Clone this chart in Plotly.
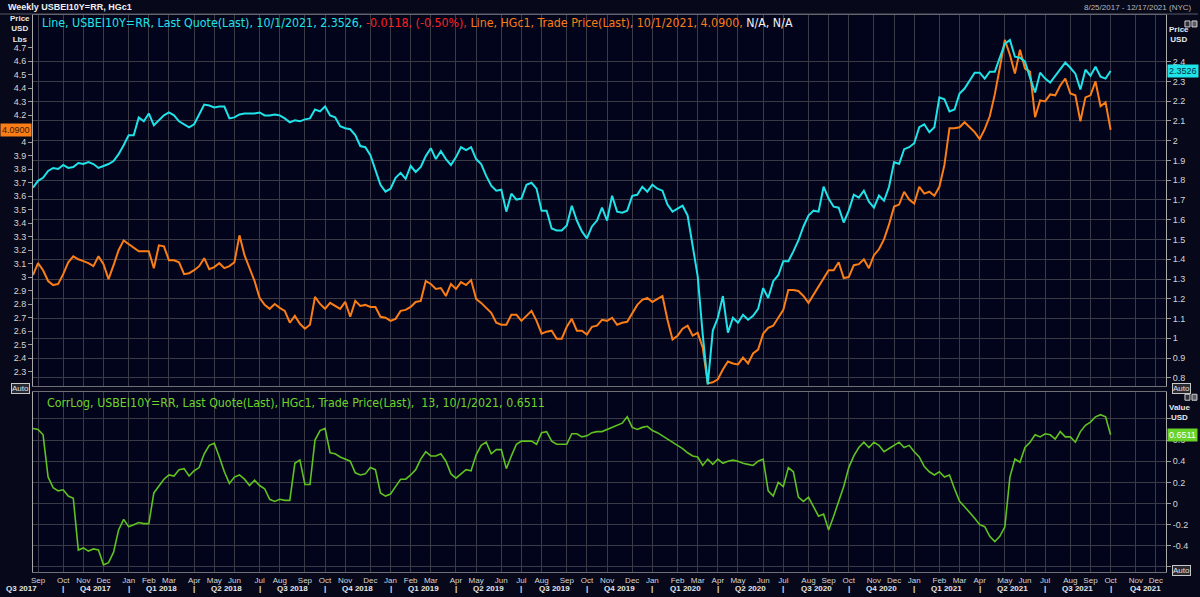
import pandas as pd
import plotly.graph_objects as go

START_DATE = "2017-08-25"
RANGE_END = "2021-12-17"

# USBEI10Y=RR weekly last quote (right axis, %)
usbei10y = [
    1.762, 1.797, 1.812, 1.847, 1.862, 1.857, 1.877, 1.862, 1.867, 1.887,
    1.882, 1.892, 1.882, 1.862, 1.872, 1.882, 1.897, 1.932, 1.977, 2.028,
    2.028, 2.118, 2.098, 2.138, 2.078, 2.103, 2.128, 2.143, 2.128, 2.098,
    2.083, 2.068, 2.083, 2.133, 2.183, 2.178, 2.168, 2.173, 2.173, 2.113,
    2.118, 2.133, 2.138, 2.138, 2.138, 2.143, 2.128, 2.128, 2.133, 2.128,
    2.113, 2.093, 2.103, 2.098, 2.108, 2.113, 2.158, 2.148, 2.173, 2.128,
    2.118, 2.073, 2.063, 2.058, 2.028, 1.973, 1.967, 1.927, 1.857, 1.777,
    1.742, 1.757, 1.812, 1.837, 1.807, 1.872, 1.842, 1.867, 1.922, 1.962,
    1.907, 1.947, 1.907, 1.877, 1.917, 1.967, 1.952, 1.967, 1.907, 1.882,
    1.822, 1.772, 1.747, 1.752, 1.641, 1.732, 1.702, 1.707, 1.777, 1.787,
    1.757, 1.646, 1.646, 1.556, 1.546, 1.546, 1.571, 1.671, 1.596, 1.541,
    1.506, 1.566, 1.596, 1.661, 1.596, 1.721, 1.641, 1.636, 1.646, 1.721,
    1.726, 1.767, 1.742, 1.777, 1.757, 1.747, 1.677, 1.641, 1.656, 1.671,
    1.621, 1.456, 1.315, 1.019, 0.767, 1.039, 1.104, 1.214, 1.029, 1.104,
    1.079, 1.119, 1.094, 1.114, 1.149, 1.254, 1.204, 1.289, 1.319, 1.390,
    1.390, 1.440, 1.495, 1.566, 1.621, 1.646, 1.641, 1.767, 1.707, 1.666,
    1.661, 1.586, 1.646, 1.727, 1.712, 1.747, 1.691, 1.661, 1.722, 1.696,
    1.767, 1.892, 1.882, 1.957, 1.967, 1.987, 2.068, 2.083, 2.043, 2.068,
    2.219, 2.209, 2.148, 2.158, 2.239, 2.264, 2.304, 2.344, 2.344, 2.314,
    2.349, 2.349, 2.420, 2.490, 2.510, 2.425, 2.420, 2.400, 2.319, 2.244,
    2.344, 2.314, 2.294, 2.329, 2.359, 2.395, 2.369, 2.339, 2.259, 2.359,
    2.329, 2.374, 2.324, 2.314, 2.3526,
]

# HGc1 weekly trade price (left axis, USD/lb)
hgc1 = [
    3.015, 3.103, 3.051, 2.971, 2.941, 2.949, 3.022, 3.110, 3.154, 3.132,
    3.118, 3.103, 3.081, 3.154, 3.096, 2.985, 3.088, 3.199, 3.272, 3.243,
    3.213, 3.191, 3.191, 3.191, 3.066, 3.235, 3.228, 3.125, 3.125, 3.110,
    3.022, 3.029, 3.051, 3.081, 3.140, 3.059, 3.074, 3.103, 3.066, 3.081,
    3.110, 3.309, 3.162, 3.066, 2.971, 2.846, 2.794, 2.765, 2.801, 2.772,
    2.750, 2.662, 2.713, 2.654, 2.618, 2.647, 2.853, 2.801, 2.765, 2.809,
    2.787, 2.765, 2.816, 2.706, 2.824, 2.787, 2.794, 2.779, 2.779, 2.706,
    2.699, 2.676, 2.691, 2.750, 2.757, 2.779, 2.816, 2.824, 2.971, 2.949,
    2.912, 2.919, 2.860, 2.949, 2.912, 2.963, 2.941, 2.978, 2.838, 2.809,
    2.772, 2.735, 2.662, 2.647, 2.647, 2.721, 2.721, 2.676, 2.713, 2.750,
    2.676, 2.581, 2.596, 2.603, 2.544, 2.544, 2.632, 2.691, 2.603, 2.603,
    2.574, 2.632, 2.640, 2.684, 2.676, 2.699, 2.647, 2.662, 2.669, 2.728,
    2.794, 2.831, 2.846, 2.816, 2.838, 2.860, 2.684, 2.537, 2.566, 2.618,
    2.640, 2.566, 2.588, 2.478, 2.213, 2.221, 2.243, 2.316, 2.375, 2.360,
    2.353, 2.404, 2.360, 2.434, 2.463, 2.581, 2.625, 2.640, 2.699, 2.757,
    2.904, 2.904, 2.897, 2.860, 2.809, 2.868, 2.926, 2.985, 3.051, 3.051,
    3.110, 2.993, 3.000, 3.088, 3.096, 3.132, 3.066, 3.162, 3.206, 3.279,
    3.390, 3.522, 3.537, 3.632, 3.574, 3.544, 3.669, 3.618, 3.632, 3.603,
    3.669, 3.831, 4.103, 4.103, 4.110, 4.147, 4.110, 4.074, 4.022, 4.096,
    4.191, 4.353, 4.551, 4.757, 4.647, 4.507, 4.684, 4.544, 4.522, 4.184,
    4.309, 4.301, 4.353, 4.346, 4.419, 4.471, 4.360, 4.346, 4.154, 4.331,
    4.346, 4.449, 4.265, 4.294, 4.090,
]

# CorrLog(USBEI10Y, HGc1, 13)
corrlog = [
    0.71, 0.70, 0.65, 0.25, 0.15, 0.12, 0.13, 0.07, 0.05, -0.44,
    -0.42, -0.45, -0.43, -0.44, -0.58, -0.56, -0.46, -0.25, -0.15, -0.22,
    -0.20, -0.18, -0.19, -0.19, 0.10, 0.17, 0.23, 0.27, 0.26, 0.32,
    0.33, 0.26, 0.31, 0.34, 0.47, 0.55, 0.57, 0.44, 0.30, 0.19,
    0.25, 0.27, 0.23, 0.17, 0.22, 0.17, 0.14, 0.04, 0.02, 0.04,
    0.03, 0.03, 0.38, 0.41, 0.18, 0.18, 0.60, 0.69, 0.71, 0.48,
    0.47, 0.44, 0.42, 0.40, 0.29, 0.27, 0.28, 0.34, 0.32, 0.10,
    0.07, 0.09, 0.16, 0.23, 0.23, 0.27, 0.32, 0.42, 0.49, 0.45,
    0.45, 0.47, 0.40, 0.28, 0.24, 0.28, 0.32, 0.31, 0.46, 0.55,
    0.58, 0.47, 0.51, 0.51, 0.33, 0.45, 0.56, 0.59, 0.59, 0.59,
    0.56, 0.67, 0.68, 0.59, 0.56, 0.56, 0.56, 0.66, 0.66, 0.63,
    0.64, 0.67, 0.68, 0.68, 0.70, 0.72, 0.74, 0.76, 0.82, 0.72,
    0.70, 0.72, 0.73, 0.69, 0.67, 0.64, 0.61, 0.58, 0.55, 0.52,
    0.48, 0.45, 0.44, 0.36, 0.42, 0.37, 0.42, 0.38, 0.40, 0.41,
    0.40, 0.38, 0.37, 0.36, 0.40, 0.42, 0.12, 0.07, 0.20, 0.16,
    0.34, 0.30, 0.06, 0.02, 0.06, -0.03, -0.12, -0.10, -0.25, -0.12,
    0.02, 0.16, 0.34, 0.45, 0.53, 0.58, 0.53, 0.58, 0.55, 0.49,
    0.52, 0.55, 0.58, 0.53, 0.55, 0.49, 0.44, 0.35, 0.30, 0.27,
    0.30, 0.25, 0.27, 0.14, 0.02, -0.03, -0.08, -0.14, -0.20, -0.22,
    -0.31, -0.36, -0.31, -0.22, 0.25, 0.42, 0.39, 0.53, 0.58, 0.65,
    0.63, 0.66, 0.65, 0.61, 0.68, 0.63, 0.63, 0.58, 0.68, 0.74,
    0.77, 0.82, 0.84, 0.82, 0.6511,
]

# left axis labels (4.1 sits under the last-value tag in the reference)
left_ticks = [2.3, 2.4, 2.5, 2.6, 2.7, 2.8, 2.9, 3.0, 3.1, 3.2, 3.3, 3.4, 3.5,
              3.6, 3.7, 3.8, 3.9, 4.0, 4.2, 4.3, 4.4, 4.5, 4.6, 4.7]
right_ticks = [0.8, 0.9, 1.0, 1.1, 1.2, 1.3, 1.4, 1.5, 1.6, 1.7, 1.8, 1.9,
               2.0, 2.1, 2.2, 2.3, 2.4]
corr_ticks = [-0.6, -0.4, -0.2, 0.0, 0.2, 0.4, 0.6, 0.8]
corr_ticktext = ["", "-0.4", "-0.2", "0", "0.2", "0.4", "0.6", ""]

dates = pd.date_range(START_DATE, periods=len(usbei10y), freq="7D")

# ---------- styling ----------
BG = "#02041c"
PAPER = "#070819"
GRID = "#3a3b45"
AXLINE = "#a9a9a9"
TICKC = "#d6d6d6"
CYAN = "#1fe3e8"
ORANGE = "#fb7d16"
GREEN = "#5fc21f"
FONT = "Liberation Sans"
NARROW = "Liberation Sans Narrow, DejaVu Sans Condensed, Liberation Sans"

W, H = 1200, 597
ML, MR, MT, MB = 33, 32, 15, 21
PW, PH = W - ML - MR, H - MT - MB


def px(x):
    return (x - ML) / PW


def py(y):
    return (H - MB - y) / PH


TOP_DOM = [py(389), 1.0]
LOW_DOM = [0.0, py(395)]

# month ticks at first weekly bar (Friday) of each month
fr = pd.date_range("2017-07-01", "2022-01-31", freq="W-FRI")
first_fri = pd.Series(fr).groupby([fr.year, fr.month]).first()
rs, re_ = pd.Timestamp(START_DATE), pd.Timestamp(RANGE_END)
month_ticks = [d for d in first_fri if rs < d <= re_]
month_text = [d.strftime("%b") for d in month_ticks]
q_starts = [d for d in first_fri if d.month in (1, 4, 7, 10)]

fig = go.Figure()
fig.add_trace(go.Scatter(x=dates, y=hgc1, mode="lines", xaxis="x2", yaxis="y",
                         line=dict(color=ORANGE, width=2), name="HGc1"))
fig.add_trace(go.Scatter(x=dates, y=usbei10y, mode="lines", xaxis="x2", yaxis="y3",
                         line=dict(color=CYAN, width=2), name="USBEI10Y=RR"))
fig.add_trace(go.Scatter(x=dates, y=corrlog, mode="lines", xaxis="x", yaxis="y2",
                         line=dict(color=GREEN, width=1.6), name="CorrLog"))

tickfont = dict(family=FONT, size=9, color=TICKC)

fig.update_layout(
    width=W, height=H,
    margin=dict(l=ML, r=MR, t=MT, b=MB, pad=0),
    paper_bgcolor=PAPER, plot_bgcolor=BG,
    showlegend=False,
    xaxis=dict(domain=[0, 1], anchor="y2", type="date", range=[START_DATE, RANGE_END],
               tickmode="array", tickvals=month_ticks, ticktext=month_text,
               tickfont=dict(family=FONT, size=8, color=TICKC), ticks="", ticklen=0,
               showgrid=True, gridcolor=GRID, gridwidth=1, zeroline=False,
               showline=True, linecolor="#6f6f78", mirror=True),
    xaxis2=dict(domain=[0, 1], anchor="y", matches="x", type="date",
                tickmode="array", tickvals=month_ticks, showticklabels=False,
                showgrid=True, gridcolor=GRID, gridwidth=1, zeroline=False,
                showline=True, linecolor="#6f6f78", mirror=True),
    yaxis=dict(domain=TOP_DOM, anchor="x2", side="left", range=[2.191, 4.941],
               tickmode="array", tickvals=left_ticks, tickfont=tickfont,
               ticks="outside", ticklen=4, tickcolor="#9a9a9a",
               showgrid=False, zeroline=False, showline=True, linecolor=AXLINE),
    yaxis3=dict(overlaying="y", anchor="x2", side="right", range=[0.757, 2.636],
                tickmode="array", tickvals=right_ticks, tickfont=tickfont,
                ticks="outside", ticklen=4, tickcolor="#9a9a9a",
                showgrid=True, gridcolor=GRID, gridwidth=1, zeroline=False,
                showline=True, linecolor=AXLINE),
    yaxis2=dict(domain=LOW_DOM, anchor="x", side="right", range=[-0.648, 1.052],
                tickmode="array", tickvals=corr_ticks, ticktext=corr_ticktext,
                tickfont=tickfont, ticks="outside", ticklen=4, tickcolor="#9a9a9a",
                showgrid=True, gridcolor=GRID, gridwidth=1, zeroline=False,
                showline=True, linecolor=AXLINE, mirror=True),
)

ann = []
# title strip
ann.append(dict(text="<b>Weekly USBEI10Y=RR, HGc1</b>", xref="paper", yref="paper",
                x=px(6), y=py(7), xanchor="left", yanchor="middle", showarrow=False,
                font=dict(family=FONT, size=9, color="#f0f0f0")))
ann.append(dict(text="8/25/2017 - 12/17/2021 (NYC)", xref="paper", yref="paper",
                x=px(1196), y=py(7), xanchor="right", yanchor="middle", showarrow=False,
                font=dict(family=FONT, size=8, color="#b8b8b8")))
# series header
hdr = (f'<span style="color:{CYAN}">Line, USBEI10Y=RR, Last Quote(Last), 10/1/2021, 2.3526, </span>'
       f'<span style="color:#ff2020">-0.0118, (-0.50%), </span>'
       f'<span style="color:{ORANGE}">Line, HGc1, Trade Price(Last), 10/1/2021, 4.0900, </span>'
       f'<span style="color:#f2f2f2">N/A, N/A</span>')
ann.append(dict(text=hdr, xref="paper", yref="paper", x=px(40), y=py(23),
                xanchor="left", yanchor="middle", showarrow=False,
                font=dict(family=NARROW, size=12.3)))
ann.append(dict(text="CorrLog, USBEI10Y=RR, Last Quote(Last), HGc1, Trade Price(Last),  13, 10/1/2021, 0.6511",
                xref="paper", yref="paper", x=px(45), y=py(406),
                xanchor="left", yanchor="middle", showarrow=False,
                font=dict(family=NARROW, size=12.3, color="#6fd42a")))
# axis captions
cap = dict(family=FONT, size=8, color="#e8e8e8")
ann.append(dict(text="<b>Price<br>USD<br>Lbs</b>", xref="paper", yref="paper", x=px(20), y=py(29),
                xanchor="center", yanchor="middle", showarrow=False, font=cap))
ann.append(dict(text="<b>Price<br>USD</b>", xref="paper", yref="paper", x=px(1181), y=py(35),
                xanchor="center", yanchor="middle", showarrow=False, font=cap))
ann.append(dict(text="<b>Value<br>USD</b>", xref="paper", yref="paper", x=px(1182), y=py(415),
                xanchor="center", yanchor="middle", showarrow=False, font=cap))
# last value boxes
box = dict(family=FONT, size=9)
ann.append(dict(text=f"{hgc1[-1]:.4f}", xref="paper", yref="y", x=px(16), y=hgc1[-1],
                xanchor="center", yanchor="middle", showarrow=False, bgcolor=ORANGE,
                borderpad=1, font=dict(box, color="#3a1a00")))
ann.append(dict(text=f"{usbei10y[-1]:.4f}", xref="paper", yref="y3", x=px(1185), y=usbei10y[-1],
                xanchor="center", yanchor="middle", showarrow=False, bgcolor=CYAN,
                borderpad=1, font=dict(box, color="#00303a")))
ann.append(dict(text=f"{corrlog[-1]:.4f}", xref="paper", yref="y2", x=px(1185), y=corrlog[-1],
                xanchor="center", yanchor="middle", showarrow=False, bgcolor="#6ad32a",
                borderpad=1, font=dict(box, color="#ffffff")))
# Auto buttons
for (ax_, ay_) in [(20, 391), (1184, 391), (1184, 574)]:
    ann.append(dict(text="Auto", xref="paper", yref="paper", x=px(ax_), y=py(ay_),
                    xanchor="center", yanchor="middle", showarrow=False,
                    bgcolor="#2a2a33", bordercolor="#c8c8c8", borderwidth=1, borderpad=0,
                    font=dict(family=FONT, size=8, color="#e0e0e0")))
# quarter labels and separators
qfont = dict(family=FONT, size=8, color="#e4e4e4")
QY = 592.5
for i, qs in enumerate(q_starts[:-1]):
    qe = q_starts[i + 1]
    label = f"Q{(qs.month - 1) // 3 + 1} {qs.year}"
    center = qs + (qe - qs) / 2
    if center < rs:
        ann.append(dict(text=f"<b>{label}</b>", xref="paper", yref="paper", x=px(21), y=py(QY),
                        xanchor="center", yanchor="middle", showarrow=False, font=qfont))
    elif center <= re_:
        ann.append(dict(text=f"<b>{label}</b>", xref="x", yref="paper", x=center, y=py(QY),
                        xanchor="center", yanchor="middle", showarrow=False, font=qfont))
    if rs < qs <= re_:
        ann.append(dict(text="<b>|</b>", xref="x", yref="paper", x=qs, y=py(QY),
                        xanchor="center", yanchor="middle", showarrow=False,
                        font=dict(family=FONT, size=8, color="#e0e0e0")))
fig.update_layout(annotations=ann)

# title strip separator and small panel icons
shapes = [dict(type="line", xref="paper", yref="paper", x0=px(0), x1=px(W), y0=py(14), y1=py(14),
               line=dict(color="#5a5a66", width=1))]
for (ix, iy) in [(1187, 24), (1187, 400)]:
    shapes.append(dict(type="rect", xref="paper", yref="paper", x0=px(ix), x1=px(ix + 5),
                       y0=py(iy + 3), y1=py(iy - 3), line=dict(color="#d0d0d0", width=1),
                       fillcolor="#30303a"))
    shapes.append(dict(type="rect", xref="paper", yref="paper", x0=px(ix + 7), x1=px(ix + 12),
                       y0=py(iy + 3), y1=py(iy - 3), line=dict(color="#d0d0d0", width=1),
                       fillcolor="#5a5a66"))
fig.update_layout(shapes=shapes)

fig.write_html("out.html", include_plotlyjs=True)
